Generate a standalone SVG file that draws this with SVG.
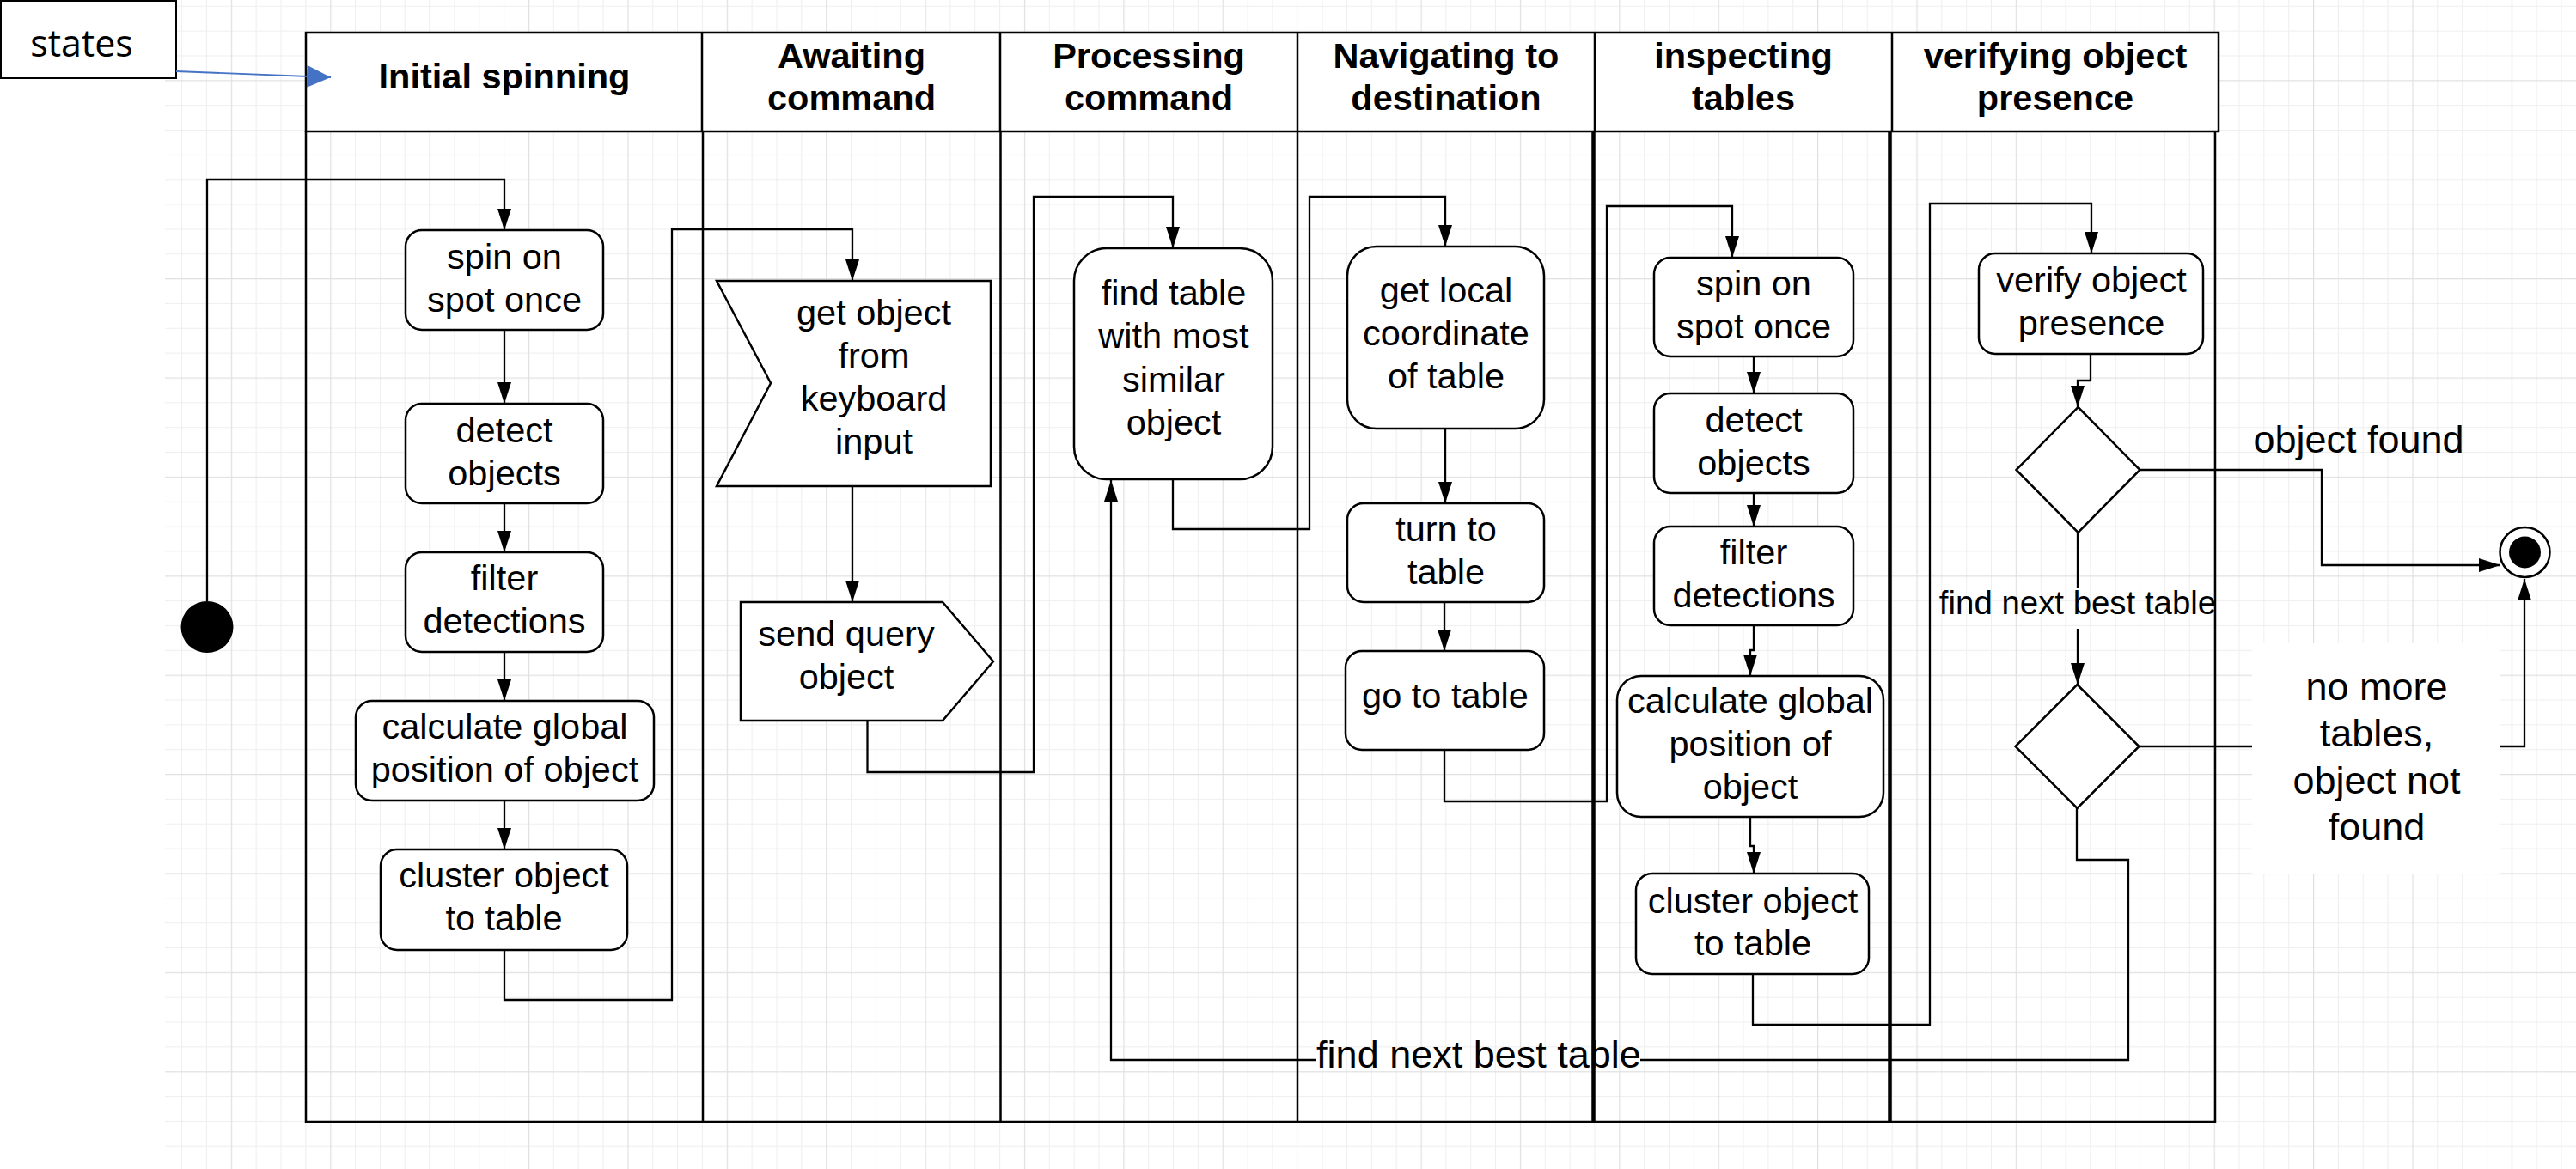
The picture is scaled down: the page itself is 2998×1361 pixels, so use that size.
<svg xmlns="http://www.w3.org/2000/svg" width="2998" height="1361" viewBox="0 0 2998 1361">
<defs>
<style>
.t{font-family:"Liberation Sans",Arial,sans-serif;font-size:41.5px;fill:#000;text-anchor:middle}
.h{font-family:"Liberation Sans",Arial,sans-serif;font-size:41.5px;font-weight:bold;fill:#000;text-anchor:middle}
.lb{font-family:"Liberation Sans",Arial,sans-serif;font-size:45px;fill:#000;text-anchor:middle}
.ls{font-family:"Liberation Sans",Arial,sans-serif;font-size:38.4px;fill:#000;text-anchor:middle}
.n{fill:#fff;stroke:#000;stroke-width:2.5}
.c{fill:none;stroke:#000;stroke-width:2.3}
.a{marker-end:url(#ah)}
.pl{fill:none;stroke:#000;stroke-width:2.5}
</style>
<marker id="ah" viewBox="0 0 25 16" refX="25" refY="8" markerWidth="25" markerHeight="16" markerUnits="userSpaceOnUse" orient="auto"><path d="M0,0 L25,8 L0,16 z" fill="#000"/></marker>
<marker id="ahb" viewBox="0 0 28 26" refX="28" refY="13" markerWidth="28" markerHeight="26" markerUnits="userSpaceOnUse" orient="auto"><path d="M0,0 L28,13 L0,26 z" fill="#4472C4"/></marker>
<pattern id="grid" x="268.8" y="93.3" width="115.39" height="115.39" patternUnits="userSpaceOnUse">
<rect width="115.39" height="115.39" fill="#fff"/>
<g fill="#efefef">
<rect x="28.85" width="1" height="115.39"/><rect x="57.7" width="1" height="115.39"/><rect x="86.54" width="1" height="115.39"/>
<rect y="28.85" width="115.39" height="1"/><rect y="57.7" width="115.39" height="1"/><rect y="86.54" width="115.39" height="1"/>
</g>
<g fill="#e0e0e0"><rect width="1.2" height="115.39"/><rect width="115.39" height="1.2"/></g>
</pattern>
</defs>
<rect width="2998" height="1361" fill="#fff"/>
<rect x="192" y="0" width="2806" height="1361" fill="url(#grid)"/>

<g id="states">
<rect x="1" y="1" width="204" height="90" fill="#fff" stroke="#000" stroke-width="2"/>
<text x="95" y="66" style="font-family:'Open Sans',sans-serif;font-size:43px;text-anchor:middle">states</text>
</g>

<g id="pool">
<rect x="356" y="38" width="2226" height="115" fill="#fff" stroke="#000" stroke-width="2.5"/>
<path class="pl" d="M817,38V153M1164,38V153M1510,38V153M1856,38V153M2202,38V153"/>
<path class="pl" d="M356,153V1306H2578V153"/>
<path class="pl" d="M818,153V1306M1164.5,153V1306M1510,153V1306"/>
<path fill="none" stroke="#000" stroke-width="4.5" d="M1854.5,153V1306M2199.5,153V1306"/>
<text class="h" x="587" y="103">Initial spinning</text>
<text class="h"><tspan x="991" y="79">Awaiting</tspan><tspan x="991" y="128">command</tspan></text>
<text class="h"><tspan x="1337" y="79">Processing</tspan><tspan x="1337" y="128">command</tspan></text>
<text class="h"><tspan x="1683" y="79">Navigating to</tspan><tspan x="1683" y="128">destination</tspan></text>
<text class="h"><tspan x="2029" y="79">inspecting</tspan><tspan x="2029" y="128">tables</tspan></text>
<text class="h"><tspan x="2392" y="79">verifying object</tspan><tspan x="2392" y="128">presence</tspan></text>
</g>

<g id="connectors">
<path d="M205,83 L385,90" fill="none" stroke="#4472C4" stroke-width="1.8" marker-end="url(#ahb)"/>
<path class="c a" d="M241,700V209H587V268"/>
<path class="c a" d="M587,384V470"/>
<path class="c a" d="M587,586V643"/>
<path class="c a" d="M587,759V816"/>
<path class="c a" d="M587,932V989"/>
<path class="c a" d="M587,1106V1164H782V267H992V327"/>
<path class="c a" d="M992,566V701"/>
<path class="c a" d="M1009.5,839V899H1203V229H1365V289"/>
<path class="c a" d="M1365,558V616H1524V229H1682V287"/>
<path class="c a" d="M1682,499V586"/>
<path class="c a" d="M1681,701V758"/>
<path class="c a" d="M1681,873V933H1870V240H2016V300"/>
<path class="c a" d="M2041,415V458"/>
<path class="c a" d="M2041,574V613"/>
<path class="c a" d="M2041,728V757H2037V787"/>
<path class="c a" d="M2037,951V985H2041V1017"/>
<path class="c a" d="M2040,1134V1193H2246V237H2434V295"/>
<path class="c a" d="M2433,412V443H2418V474"/>
<path class="c a" d="M2491,547H2702V658H2910"/>
<path class="c" d="M2418,620V685"/>
<path class="c a" d="M2418,732V797"/>
<path class="c" d="M2490,869H2621"/>
<path class="c a" d="M2910,869H2938V674"/>
<path class="c" d="M2417,941V1001H2477V1234H1909"/>
<path class="c a" d="M1532,1234H1293V559"/>
</g>

<g id="labels">
<text class="lb" x="2745" y="527">object found</text>
<text class="ls" x="2418" y="715">find next best table</text>
<rect x="2621" y="749" width="289" height="269" fill="#fff"/>
<text class="lb"><tspan x="2766" y="815">no more</tspan><tspan x="2766" y="869">tables,</tspan><tspan x="2766" y="924">object not</tspan><tspan x="2766" y="978">found</tspan></text>
<text class="lb" x="1721" y="1243">find next best table</text>
</g>

<g id="start"><ellipse cx="241" cy="730" rx="30.5" ry="30" fill="#000"/></g>
<g id="end"><circle cx="2938.5" cy="643" r="29" fill="#fff" stroke="#000" stroke-width="2.5"/><circle cx="2938.5" cy="643" r="18.5" fill="#000"/></g>

<g id="n1"><rect class="n" x="472" y="268" width="230" height="116" rx="19"/><text class="t"><tspan x="587" y="313">spin on</tspan><tspan x="587" y="363">spot once</tspan></text></g>
<g id="n2"><rect class="n" x="472" y="470" width="230" height="116" rx="19"/><text class="t"><tspan x="587" y="515">detect</tspan><tspan x="587" y="565">objects</tspan></text></g>
<g id="n3"><rect class="n" x="472" y="643" width="230" height="116" rx="19"/><text class="t"><tspan x="587" y="687">filter</tspan><tspan x="587" y="737">detections</tspan></text></g>
<g id="n4"><rect class="n" x="414" y="816" width="347" height="116" rx="19"/><text class="t"><tspan x="587.5" y="860">calculate global</tspan><tspan x="587.5" y="910">position of object</tspan></text></g>
<g id="n5"><rect class="n" x="443" y="989" width="287" height="117" rx="19"/><text class="t"><tspan x="586.5" y="1033">cluster object</tspan><tspan x="586.5" y="1083">to table</tspan></text></g>

<g id="n6"><polygon class="n" points="834,327 1153,327 1153,566 834,566 897,446"/><text class="t"><tspan x="1017" y="378">get object</tspan><tspan x="1017" y="428">from</tspan><tspan x="1017" y="478">keyboard</tspan><tspan x="1017" y="528">input</tspan></text></g>
<g id="n7"><polygon class="n" points="862,701 1097,701 1156,770 1097,839 862,839"/><text class="t"><tspan x="985" y="752">send query</tspan><tspan x="985" y="802">object</tspan></text></g>

<g id="n8"><rect class="n" x="1250" y="289" width="231" height="269" rx="38"/><text class="t"><tspan x="1366" y="355">find table</tspan><tspan x="1366" y="405">with most</tspan><tspan x="1366" y="456">similar</tspan><tspan x="1366" y="506">object</tspan></text></g>

<g id="n9"><rect class="n" x="1568" y="287" width="229" height="212" rx="34"/><text class="t"><tspan x="1683" y="352">get local</tspan><tspan x="1683" y="402">coordinate</tspan><tspan x="1683" y="452">of table</tspan></text></g>
<g id="n10"><rect class="n" x="1568" y="586" width="229" height="115" rx="19"/><text class="t"><tspan x="1683" y="630">turn to</tspan><tspan x="1683" y="680">table</tspan></text></g>
<g id="n11"><rect class="n" x="1566" y="758" width="231" height="115" rx="19"/><text class="t" x="1682" y="824">go to table</text></g>

<g id="n12"><rect class="n" x="1925" y="300" width="232" height="115" rx="19"/><text class="t"><tspan x="2041" y="344">spin on</tspan><tspan x="2041" y="394">spot once</tspan></text></g>
<g id="n13"><rect class="n" x="1925" y="458" width="232" height="116" rx="19"/><text class="t"><tspan x="2041" y="503">detect</tspan><tspan x="2041" y="553">objects</tspan></text></g>
<g id="n14"><rect class="n" x="1925" y="613" width="232" height="115" rx="19"/><text class="t"><tspan x="2041" y="657">filter</tspan><tspan x="2041" y="707">detections</tspan></text></g>
<g id="n15"><rect class="n" x="1882" y="787" width="310" height="164" rx="28"/><text class="t"><tspan x="2037" y="830">calculate global</tspan><tspan x="2037" y="880">position of</tspan><tspan x="2037" y="930">object</tspan></text></g>
<g id="n16"><rect class="n" x="1904" y="1017" width="271" height="117" rx="19"/><text class="t"><tspan x="2040" y="1063">cluster object</tspan><tspan x="2040" y="1112">to table</tspan></text></g>

<g id="n17"><rect class="n" x="2303" y="295" width="261" height="117" rx="19"/><text class="t"><tspan x="2434" y="340">verify object</tspan><tspan x="2434" y="390">presence</tspan></text></g>
<g id="d1"><polygon class="n" points="2418.5,474 2490.5,547 2418.5,620 2346.5,547"/></g>
<g id="d2"><polygon class="n" points="2417.5,797 2489.5,869 2417.5,941 2345.5,869"/></g>
</svg>
